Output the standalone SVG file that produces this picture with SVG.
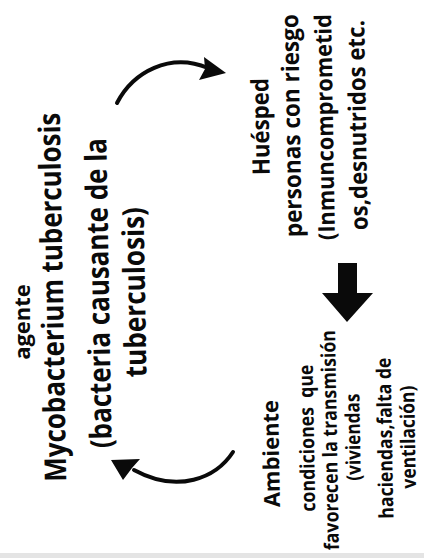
<svg xmlns="http://www.w3.org/2000/svg" width="424" height="558" viewBox="0 0 424 558">
<style>
text{font-family:"Open Sans","Noto Sans","Liberation Sans",sans-serif;font-weight:700;fill:#0a0a0a;text-anchor:middle}
.a{font-size:30px}
.h{font-size:24px}
.m{font-size:20px}
.curve{fill:none;stroke:#0a0a0a;stroke-width:4;stroke-linecap:round}
.head{fill:#0a0a0a}
</style>
<rect width="424" height="558" fill="#ffffff"/>
<rect x="0" y="553" width="424" height="5" fill="#e4e4e4"/>
<g id="agente">
<text transform="translate(30,322) rotate(-90)" style="font-size:22px">agente</text>
<text class="a" transform="translate(63,297) rotate(-91)" textLength="369" lengthAdjust="spacingAndGlyphs">Mycobacterium tuberculosis</text>
<text class="a" transform="translate(109,293) rotate(-91)" textLength="310" lengthAdjust="spacingAndGlyphs">(bacteria causante de la</text>
<text class="a" transform="translate(145,292) rotate(-91)" textLength="170" lengthAdjust="spacingAndGlyphs">tuberculosis)</text>
</g>
<g id="huesped">
<text class="h" transform="translate(269,126.5) rotate(-91)" textLength="97" lengthAdjust="spacingAndGlyphs">Huésped</text>
<text class="h" transform="translate(300,125.5) rotate(-91)" textLength="223" lengthAdjust="spacingAndGlyphs">personas con riesgo</text>
<text class="h" transform="translate(333,127) rotate(-91)" style="font-size:23px" textLength="226" lengthAdjust="spacingAndGlyphs">(Inmuncomprometid</text>
<text class="h" transform="translate(366,125) rotate(-91)" textLength="210" lengthAdjust="spacingAndGlyphs">os,desnutridos etc.</text>
</g>
<g id="ambiente">
<text transform="translate(279,453.5) rotate(-91)" style="font-size:22px" textLength="107" lengthAdjust="spacingAndGlyphs">Ambiente</text>
<text class="m" transform="translate(314,438) rotate(-91)" textLength="147" lengthAdjust="spacingAndGlyphs" xml:space="preserve" style="white-space:pre">condiciones  que</text>
<text class="m" transform="translate(337,440) rotate(-91)" textLength="220" lengthAdjust="spacingAndGlyphs">favorecen la transmisión</text>
<text class="m" transform="translate(360,437) rotate(-91)" textLength="87" lengthAdjust="spacingAndGlyphs">(viviendas</text>
<text class="m" transform="translate(392,438) rotate(-91)" textLength="161" lengthAdjust="spacingAndGlyphs">haciendas,falta de</text>
<text class="m" transform="translate(415,437) rotate(-91)" textLength="103" lengthAdjust="spacingAndGlyphs">ventilación)</text>
</g>
<g id="connectors">
<path class="curve" d="M117,103 C133,72 170,52 208,68"/>
<polygon class="head" points="204,57 226,73 199,80 205,69"/>
<path class="curve" d="M233,452 C216,478 178,494 134,470"/>
<polygon class="head" points="111,460 140,459 132,468 123,480"/>
<polygon class="head" points="338,263 357,263 357,293 373,293 347,322 322,293 338,293"/>
</g>
</svg>
